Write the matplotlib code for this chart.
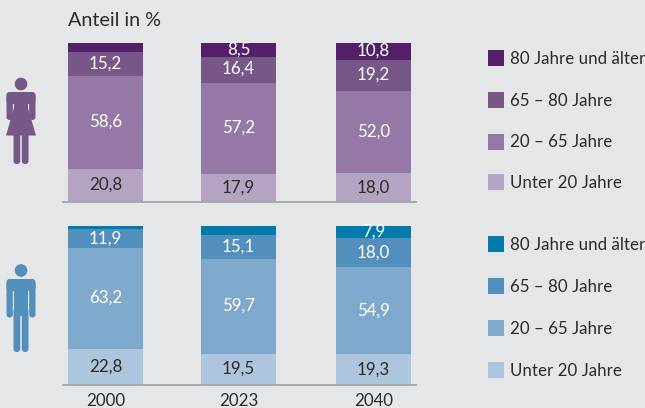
import matplotlib
matplotlib.use('Agg')
import matplotlib.pyplot as plt
from matplotlib.patches import Circle, FancyBboxPatch, Polygon, Rectangle

plt.rcParams['font.family'] = ['Lato', 'DejaVu Sans']

# --- Daten ---
jahre = ['2000', '2023', '2040']
gruppen = ['Unter 20 Jahre', '20 – 65 Jahre', '65 – 80 Jahre', '80 Jahre und älter']

frauen_u20 = [20.8, 17.9, 18.0]
frauen_20_65 = [58.6, 57.2, 52.0]
frauen_65_80 = [15.2, 16.4, 19.2]
frauen_80 = [5.4, 8.5, 10.8]

maenner_u20 = [22.8, 19.5, 19.3]
maenner_20_65 = [63.2, 59.7, 54.9]
maenner_65_80 = [11.9, 15.1, 18.0]
maenner_80 = [2.1, 5.7, 7.9]

farben_f = ['#b5a3c3', '#9578a5', '#775688', '#531f68']
farben_m = ['#aec6dd', '#7fa9cc', '#528fbc', '#007bab']
hintergrund = '#e5e6e8'
dunkel = '#2b2b2b'
W, H = 645, 408
GROESSE = 12.2

fig = plt.figure(figsize=(W / 100, H / 100), dpi=100, facecolor=hintergrund)


def panel(y_unten, y_oben, reihen, farben, labels_leer):
    ax = fig.add_axes([62 / W, 1 - y_unten / H, (417 - 62) / W, (y_unten - y_oben) / H])
    ax.set_facecolor('none')
    ax.set_xlim(62, 417)
    ax.set_ylim(0, 100)
    ax.axis('off')
    x = [105.5, 238.5, 373.5]
    unten = [0, 0, 0]
    for s, (werte, farbe) in enumerate(zip(reihen, farben)):
        ax.bar(x, werte, width=75, bottom=unten, color=farbe, linewidth=0)
        for i, w in enumerate(werte):
            if (s, i) in labels_leer:
                continue
            ax.text(x[i], unten[i] + w / 2 + 0.3, f'{w:.1f}'.replace('.', ','),
                    ha='center', va='center', fontsize=GROESSE,
                    color=dunkel if s == 0 else 'white')
        unten = [u + w for u, w in zip(unten, werte)]
    ax.plot([62, 417], [0, 0], color='#a3a5a8', lw=1.3, clip_on=False, solid_capstyle='butt')
    return ax, x


frauen = [frauen_u20, frauen_20_65, frauen_65_80, frauen_80]
maenner = [maenner_u20, maenner_20_65, maenner_65_80, maenner_80]
panel(202, 43, frauen, farben_f, {(3, 0)})
ax_m, x_m = panel(385, 226, maenner, farben_m, {(3, 0), (3, 1)})

# Titel und Jahre
fig.text(68 / W, 1 - 20.5 / H, 'Anteil in %', fontsize=14.2, color=dunkel, va='center')
for x, jahr in zip(x_m, jahre):
    fig.text(x / W, 1 - 401 / H, jahr, fontsize=GROESSE, color=dunkel, ha='center', va='center')

# Overlay in Pixeln fuer Legende und Figuren
ov = fig.add_axes([0, 0, 1, 1], facecolor='none')
ov.set_xlim(0, W)
ov.set_ylim(H, 0)
ov.axis('off')


def legende(ys, farben):
    for y, farbe, name in zip(ys, farben[::-1], gruppen[::-1]):
        ov.add_patch(Rectangle((488, y - 8), 16, 16, color=farbe, lw=0))
        ov.text(509.5, y + 0.5, name, fontsize=GROESSE, color=dunkel, va='center')


legende([58, 100, 141.5, 182], farben_f)
legende([244, 286, 328, 370], farben_m)


def balken(x0, y0, x1, y1, farbe, r=3):
    ov.add_patch(FancyBboxPatch((x0 + r, y0 + r), x1 - x0 - 2 * r, y1 - y0 - 2 * r,
                                boxstyle=f'round,pad={r},rounding_size={r}', color=farbe, lw=0))


def figur_frau(farbe):
    ov.add_patch(Circle((21, 84), 6.3, color=farbe, lw=0))
    balken(6.5, 92, 35.5, 104, farbe)
    balken(6.5, 94, 12.8, 120, farbe)
    balken(29.2, 94, 35.5, 120, farbe)
    ov.add_patch(Polygon([[14, 95], [28, 95], [28, 108], [36, 135.5], [6, 135.5], [14, 108]], color=farbe, lw=0))
    balken(13.5, 130, 20.2, 164, farbe)
    balken(21.8, 130, 28.5, 164, farbe)


def figur_mann(farbe):
    ov.add_patch(Circle((21, 270.5), 6.3, color=farbe, lw=0))
    balken(6.5, 279, 35.5, 291, farbe)
    balken(6.5, 281, 12.8, 317.5, farbe)
    balken(29.2, 281, 35.5, 317.5, farbe)
    ov.add_patch(Rectangle((14, 281), 14, 35, color=farbe, lw=0))
    balken(13.5, 308, 20.2, 352, farbe)
    balken(21.8, 308, 28.5, 352, farbe)


figur_frau('#775688')
figur_mann('#528fbc')

plt.savefig('out.png', dpi=100, facecolor=hintergrund)
